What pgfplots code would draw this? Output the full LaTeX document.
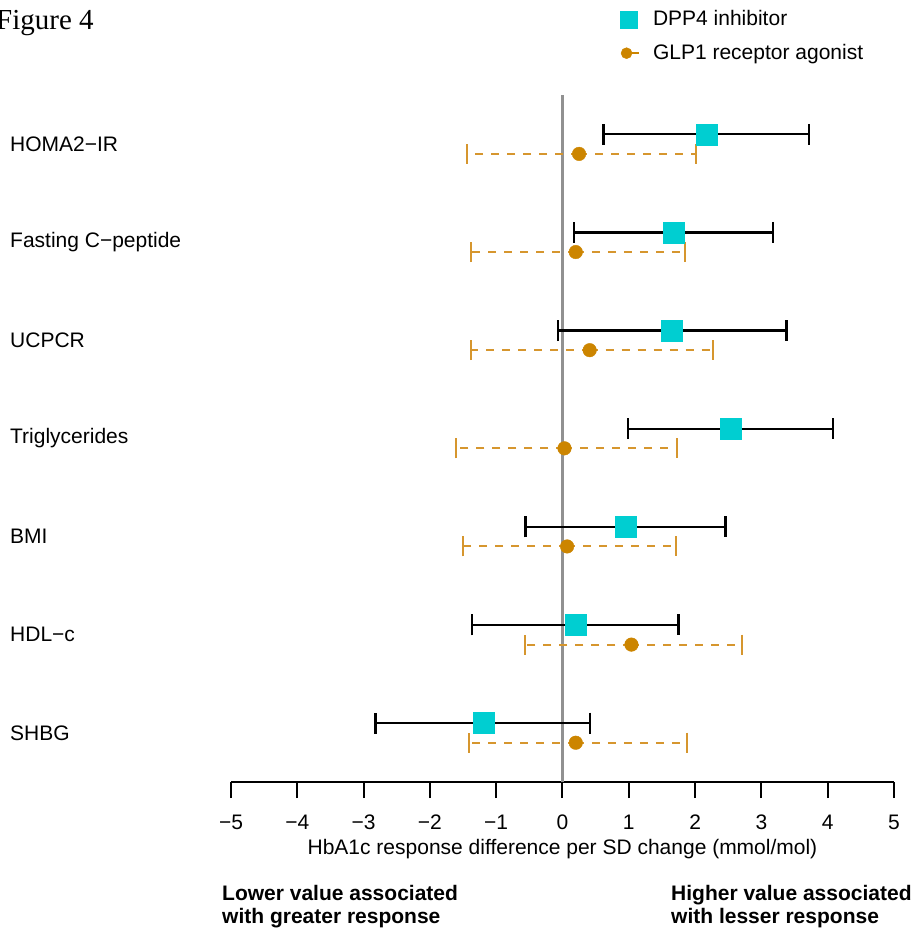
\documentclass[border=0pt]{standalone}
\usepackage{pgfplots}
\pgfplotsset{compat=1.18}
\usepackage{pgfplotstable}
\usepackage{fontspec}
\setmainfont{Liberation Sans}
\newfontfamily\figfont{Liberation Serif}
\definecolor{dppc}{RGB}{0,206,209}
\definecolor{glpc}{RGB}{204,133,0}
\definecolor{glpl}{RGB}{214,150,46}
\definecolor{zeroc}{RGB}{145,145,145}

\pgfplotstableread{
y x lo hi
7.1 2.17 0.62 3.72
6.1 1.67 0.17 3.17
5.1 1.65 -0.07 3.38
4.1 2.54 0.99 4.08
3.1 0.96 -0.56 2.46
2.1 0.20 -1.36 1.75
1.1 -1.19 -2.82 0.41
}\dpp

\pgfplotstableread{
y x lo hi
6.9 0.25 -1.44 2.01
5.9 0.20 -1.38 1.85
4.9 0.41 -1.38 2.27
3.9 0.03 -1.60 1.73
2.9 0.07 -1.50 1.71
1.9 1.04 -0.56 2.71
0.9 0.20 -1.41 1.88
}\glp

\begin{document}
\fontsize{21}{25}\selectfont
\begin{tikzpicture}
\path[use as bounding box] (-231pt,-148pt) rectangle (686pt,782pt);
\begin{axis}[
  at={(0,0)}, anchor=south west,
  scale only axis, width=663pt, height=687pt,
  xmin=-5, xmax=5, ymin=0.5, ymax=7.5,
  axis x line=bottom, axis y line=left,
  y axis line style={draw=none},
  x axis line style={-, line width=2pt, black},
  xtick={-5,-4,-3,-2,-1,0,1,2,3,4,5},
  xticklabels={−5,−4,−3,−2,−1,0,1,2,3,4,5},
  xtick align=outside, major tick length=16pt,
  xtick style={line width=2pt, black},
  ytick={1,2,3,4,5,6,7},
  yticklabels={SHBG,HDL−c,BMI,Triglycerides,UCPCR,Fasting C−peptide,HOMA2−IR},
  ytick style={draw=none},
  xticklabel style={anchor=center, yshift=-24pt},
  yticklabel style={anchor=west, xshift=-220pt},
  xlabel={HbA1c response difference per SD change (mmol/mol)},
  xlabel style={at={(rel axis cs:0.5,0)}, anchor=center, yshift=-67pt},
  clip=false,
  legend style={draw=none, fill=none, at={(rel axis cs:0.585,1.126)}, anchor=north west,
    font=\fontsize{21}{25}\selectfont, row sep=11pt, inner sep=0pt},
  legend cell align=left,
]
\addplot[zeroc, line width=2.2pt, forget plot] coordinates {(0,0.5) (0,7.5)};

\addplot[only marks, mark=square*, mark size=10.5pt, mark options={draw=dppc, fill=dppc},
  legend image code/.code={\path[draw=none, fill=none] (0pt,0pt) -- (32pt,0pt);
    \draw[mark=square*, mark size=8.3pt, draw=dppc, fill=dppc] plot coordinates {(9.5pt,0pt)};},
  error bars/.cd, x dir=both, x explicit,
  error bar style={black, line width=2.3pt},
  error mark options={black, line width=2.3pt, mark size=10.5pt, rotate=90}]
  table[x=x, y=y, x error plus expr=\thisrow{hi}-\thisrow{x}, x error minus expr=\thisrow{x}-\thisrow{lo}] {\dpp};
\addlegendentry{DPP4 inhibitor}

\addplot[only marks, mark=*, mark size=6.8pt, mark options={draw=glpc, fill=glpc},
  legend image code/.code={\path[draw=none, fill=none] (0pt,0pt) -- (32pt,0pt);
    \draw[glpc, line width=2pt, solid] (7.5pt,0pt) -- (20pt,0pt);
    \draw[mark=*, mark size=5.5pt, draw=glpc, fill=glpc] plot coordinates {(7.5pt,0pt)};},
  error bars/.cd, x dir=both, x explicit,
  error bar style={glpl, line width=2pt, dash pattern=on 8pt off 8pt},
  error mark options={glpl, line width=2pt, mark size=10pt, solid, rotate=90}]
  table[x=x, y=y, x error plus expr=\thisrow{hi}-\thisrow{x}, x error minus expr=\thisrow{x}-\thisrow{lo}] {\glp};
\addlegendentry{GLP1 receptor agonist}
\end{axis}
\node[anchor=base west, font=\figfont\fontsize{29}{33}\selectfont] at (-242pt,752pt) {Figure 4};
\node[anchor=north west, align=left, inner sep=0pt, font=\bfseries\fontsize{21}{23}\selectfont] at (-9pt,-103pt) {Lower value associated\\with greater response};
\node[anchor=north west, align=left, inner sep=0pt, font=\bfseries\fontsize{21}{23}\selectfont] at (440pt,-103pt) {Higher value associated\\with lesser response};
\end{tikzpicture}
\end{document}
